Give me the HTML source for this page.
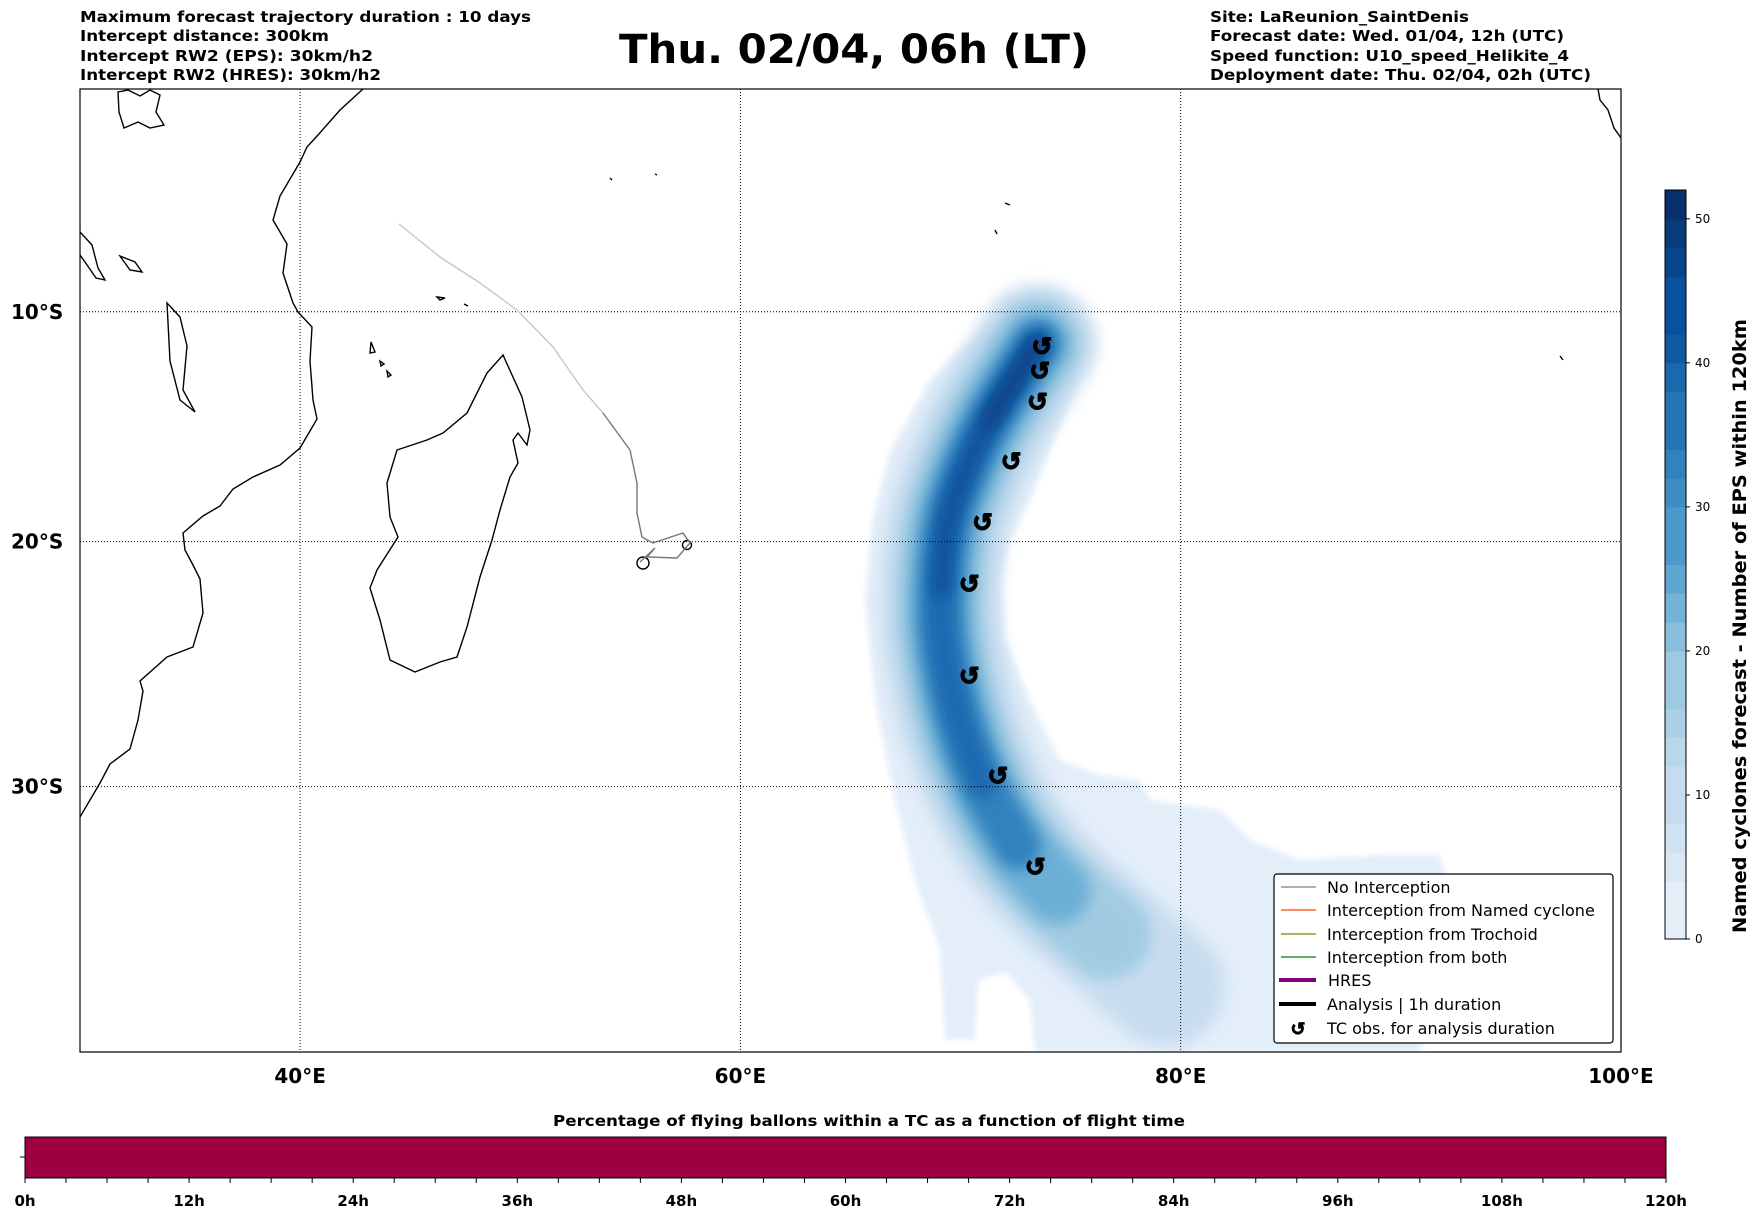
<!DOCTYPE html>
<html><head><meta charset="utf-8"><style>
html,body{margin:0;padding:0;background:#fff;}
svg{display:block;font-family:"DejaVu Sans","Liberation Sans",sans-serif;}
</style></head><body>
<svg id="c" width="1752" height="1213" viewBox="0 0 1752 1213" xmlns="http://www.w3.org/2000/svg">
<defs>
<filter id="bl" filterUnits="userSpaceOnUse" x="0" y="0" width="1752" height="1213"><feGaussianBlur stdDeviation="7"/></filter>
<filter id="bl2" filterUnits="userSpaceOnUse" x="0" y="0" width="1752" height="1213"><feGaussianBlur stdDeviation="3"/></filter>
<clipPath id="mapclip"><rect x="80" y="89" width="1541" height="963"/></clipPath>
</defs>

<!-- header -->
<g font-weight="bold" font-size="15" xml:space="preserve">
<text x="80" y="22" textLength="451" lengthAdjust="spacingAndGlyphs">Maximum forecast trajectory duration : 10 days</text>
<text x="80" y="41" textLength="249" lengthAdjust="spacingAndGlyphs">Intercept distance: 300km</text>
<text x="80" y="61" textLength="293" lengthAdjust="spacingAndGlyphs">Intercept RW2 (EPS):  30km/h2</text>
<text x="80" y="80" textLength="301" lengthAdjust="spacingAndGlyphs">Intercept RW2 (HRES): 30km/h2</text>
</g>
<text x="619" y="63" font-size="40" font-weight="bold" textLength="470" lengthAdjust="spacingAndGlyphs">Thu. 02/04, 06h (LT)</text>
<g font-weight="bold" font-size="15">
<text x="1210" y="22" textLength="259" lengthAdjust="spacingAndGlyphs">Site: LaReunion_SaintDenis</text>
<text x="1210" y="41" textLength="354" lengthAdjust="spacingAndGlyphs">Forecast date: Wed. 01/04, 12h (UTC)</text>
<text x="1210" y="61" textLength="359" lengthAdjust="spacingAndGlyphs">Speed function: U10_speed_Helikite_4</text>
<text x="1210" y="80" textLength="381" lengthAdjust="spacingAndGlyphs">Deployment date: Thu. 02/04, 02h (UTC)</text>
</g>

<g id="map" clip-path="url(#mapclip)">
<g id="density"></g>
<g id="grid"></g>
<g fill="none" stroke="#000" stroke-width="1.4">
<path d="M363,89 L340,110 L318,135 L307,147 L300,162 L280,196 L273,220 L287,244 L283,273 L293,303 L298,312 L312,327 L310,361 L313,400 L317,419 L300,448 L280,465 L253,477 L233,489 L220,506 L203,516 L183,533 L185,550 L193,565 L200,579 L203,613 L193,647 L167,657 L140,681 L143,691 L138,720 L130,749 L110,764 L100,783 L80,817"/>
<path d="M167,303 L180,317 L187,346 L183,390 L195,412 L180,400 L170,361 Z"/>
<path d="M80,232 L92,245 L98,268 L105,280 L96,278 L85,262 L80,255"/>
<path d="M118,92 L128,90 L140,96 L150,90 L160,95 L156,112 L164,125 L150,128 L138,122 L124,128 L119,112 Z"/>
<path d="M120,256 L135,262 L142,272 L130,270 Z"/>
<path d="M503,355 L522,397 L530,430 L527,445 L518,433 L513,440 L518,463 L510,477 L500,510 L492,540 L480,577 L467,627 L457,657 L440,662 L415,672 L390,660 L380,620 L370,588 L377,570 L398,537 L390,517 L387,483 L397,450 L427,440 L443,433 L467,413 L487,373 Z"/>
<path d="M371,342 L375,352 L370,353 Z M380,361 L384,364 L381,366 Z M387,371 L391,375 L388,377 Z"/>
<circle cx="643" cy="563" r="6"/>
<circle cx="687" cy="545" r="4.5"/>
<path d="M437,297 L445,298 L440,300 Z M464,304 L468,306 Z M610,178 L612,180 M655,174 L657,175 M1005,203 L1010,205 M995,230 L997,234 M1560,356 L1563,360 M1598,89 L1600,100 L1608,110 L1614,128 L1621,138"/>
</g>
<g fill="none" stroke-width="1.4">
<path d="M399,224 L440,257 L480,283 L517,310 L553,347 L583,390 L603,413" stroke="#c8c8c8"/>
<path d="M603,413 L630,450 L637,483 L637,513 L642,537 L653,543 L683,533 L690,543 L677,558 L647,557 L655,548 L640,562" stroke="#777"/>
</g>
<g id="tc"></g>
</g>
<rect x="80" y="89" width="1541" height="963" fill="none" stroke="#000" stroke-width="1.2"/>
<g id="axlabels" font-weight="bold" font-size="20"></g>

<!-- legend -->
<g font-size="16">
<rect x="1274" y="874" width="339" height="169" rx="3" fill="#fff" stroke="#000" stroke-width="1.2"/>
<g><line x1="1281" y1="887" x2="1316" y2="887" stroke="#808080" stroke-width="1.2"/><text x="1327" y="893">No Interception</text></g>
<g><line x1="1281" y1="910" x2="1316" y2="910" stroke="#ff4500" stroke-width="1.2"/><text x="1327" y="916">Interception from Named cyclone</text></g>
<g><line x1="1281" y1="934" x2="1316" y2="934" stroke="#808000" stroke-width="1.2"/><text x="1327" y="940">Interception from Trochoid</text></g>
<g><line x1="1281" y1="957" x2="1316" y2="957" stroke="#008000" stroke-width="1.2"/><text x="1327" y="963">Interception from both</text></g>
<g><line x1="1279" y1="980" x2="1316" y2="980" stroke="#800080" stroke-width="4"/><text x="1328" y="986">HRES</text></g>
<g><line x1="1279" y1="1004" x2="1316" y2="1004" stroke="#000" stroke-width="4"/><text x="1327" y="1010">Analysis | 1h duration</text></g>
<g><text x="1298" y="1035" font-size="18" font-weight="bold" text-anchor="middle" stroke="#000" stroke-width="0.8">↺</text><text x="1327" y="1034">TC obs. for analysis duration</text></g>
</g>

<!-- colorbar -->
<g id="cbar"></g>
<text transform="translate(1746,626) rotate(-90)" text-anchor="middle" font-size="19" font-weight="bold" textLength="614" lengthAdjust="spacingAndGlyphs">Named cyclones forecast - Number of EPS within 120km</text>

<!-- time bar -->
<text x="553" y="1126" font-size="15" font-weight="bold" textLength="632" lengthAdjust="spacingAndGlyphs">Percentage of flying ballons within a TC as a function of flight time</text>
<g id="tbar"></g>
</svg>
<script>
// ---- data ----
const lonTicks=[40,60,80,100];
const lonTickLabels=["40°E","60°E","80°E","100°E"];
const latTicks=[-10,-20,-30];
const latTickLabels=["10°S","20°S","30°S"];
const tcLon=[73.7,73.6,73.5,72.3,71.0,70.4,70.4,71.7,73.4];
const tcLat=[-11.55,-12.65,-14.0,-16.6,-19.2,-21.8,-25.6,-29.6,-33.1];
const trackLon=[73.5,72.5,71.3,70.2,69.4,69.1,69.2,69.9,71.0,72.6,74.4,76.6,79.3];
const trackLat=[-11.4,-12.9,-14.8,-17.0,-19.3,-22.0,-24.3,-27.3,-29.9,-32.3,-34.0,-35.6,-37.5];
const cbTicks=[0,10,20,30,40,50];
const cbMax=52;
const cbColors=["#e3eef9","#dae8f6","#d0e1f2","#c6dbef","#bad6eb","#abd0e6","#9ecae1","#89bedc","#74b3d8","#5fa6d1","#4d99ca","#3e8ec4","#3182bd","#2574b6","#1a68ae","#0f5aa3","#08519c","#08458a","#083b7a","#08306b"];
const timeTicks=[0,12,24,36,48,60,72,84,96,108,120];
const timeTickLabels=["0h","12h","24h","36h","48h","60h","72h","84h","96h","108h","120h"];
const timeMax=120;

// ---- projection ----
const X0=80,PXD=22.014,Y0=89,K=1270;
function px(lon){return X0+(lon-30)*PXD;}
function merc(lat){const r=Math.abs(lat)*Math.PI/180;return Math.log(Math.tan(Math.PI/4+r/2));}
function py(lat){return Y0+merc(lat)*K;}
const NS="http://www.w3.org/2000/svg";
function mk(t,a,p){const e=document.createElementNS(NS,t);for(const k in a)e.setAttribute(k,a[k]);p.appendChild(e);return e;}

// grid
const grid=document.getElementById('grid');
lonTicks.forEach(l=>{if(l<100){const g=mk('line',{x1:px(l),x2:px(l),y1:89,y2:1052,stroke:'#000','stroke-width':1,'stroke-dasharray':'1,2'},grid);

}});
latTicks.forEach(l=>{const g=mk('line',{x1:80,x2:1621,y1:py(l),y2:py(l),stroke:'#000','stroke-width':1,'stroke-dasharray':'1,2'},grid);

});

// axis labels
const axl=document.getElementById('axlabels');
lonTicks.forEach((l,i)=>{const t=mk('text',{x:px(l),y:1083,'text-anchor':'middle'},axl);t.textContent=lonTickLabels[i];

});
latTicks.forEach((l,i)=>{const t=mk('text',{x:11,y:py(l)+7},axl);t.textContent=latTickLabels[i];

});

// density plume
const dens=document.getElementById('density');
function spline(xs,ys){let d='M'+xs[0]+','+ys[0];for(let i=0;i<xs.length-1;i++){const p0=[xs[Math.max(i-1,0)],ys[Math.max(i-1,0)]],p1=[xs[i],ys[i]],p2=[xs[i+1],ys[i+1]],p3=[xs[Math.min(i+2,xs.length-1)],ys[Math.min(i+2,ys.length-1)]];
d+=' C'+(p1[0]+(p2[0]-p0[0])/6)+','+(p1[1]+(p2[1]-p0[1])/6)+' '+(p2[0]-(p3[0]-p1[0])/6)+','+(p2[1]-(p3[1]-p1[1])/6)+' '+p2[0]+','+p2[1];}return d;}
const txs=trackLon.map(px),tys=trackLat.map(py);
mk('path',{d:'M1030,296 L1050,296 L1070,310 L1078,350 L1070,400 L1050,450 L1030,500 L1010,540 L1000,580 L1005,640 L1030,700 L1060,760 L1100,775 L1140,780 L1150,800 L1220,810 L1250,840 L1300,860 L1380,855 L1440,855 L1452,900 L1440,1000 L1420,1052 L1035,1052 L1030,1000 L1005,972 L978,980 L975,1040 L945,1040 L940,950 L915,880 L895,800 L875,700 L865,600 L872,520 L890,450 L930,380 L960,350 L990,330 L1010,305 Z',fill:'#e3eef9',filter:'url(#bl2)'},dens);
function layer(n,w,col,op){const d=spline(txs.slice(0,n),tys.slice(0,n));const p=mk('path',{d:d,fill:'none',stroke:col,'stroke-width':w,'stroke-linecap':'round','stroke-linejoin':'round',opacity:op,filter:'url(#bl)'},dens);

}
layer(13,120,'#c6dbef',0.9);
layer(12,90,'#9ecae1',0.9);
layer(11,66,'#6baed6',0.95);
layer(10,46,'#3182bd',1);
layer(9,28,'#1c69b0',1);
layer(6,18,'#08519c',1);
layer(3,16,'#08458a',1);

// TC obs
const tc=document.getElementById('tc');
tcLon.forEach((l,i)=>{const t=mk('text',{x:px(l),y:py(tcLat[i])+8,'text-anchor':'middle','font-size':25,'font-weight':'bold',fill:'#000',stroke:'#000','stroke-width':1.2},tc);t.textContent='↺';

});

// colorbar
const cb=document.getElementById('cbar');
const CB_B=939,CB_T=190,CBX=1665,CBW=21;
function cy(v){return CB_B-(v/cbMax)*(CB_B-CB_T);}
for(let i=0;i<26;i++){const v0=i*2,v1=i*2+2;const r=mk('rect',{x:CBX,y:cy(v1),width:CBW,height:cy(v0)-cy(v1)+0.5,fill:cbColors[Math.min(19,Math.floor(i*20/26))]},cb);

}
mk('rect',{x:CBX,y:CB_T,width:CBW,height:CB_B-CB_T,fill:'none',stroke:'#000','stroke-width':1},cb);
cbTicks.forEach(v=>{mk('line',{x1:CBX+CBW,x2:CBX+CBW+4,y1:cy(v),y2:cy(v),stroke:'#000'},cb);const t=mk('text',{x:CBX+CBW+9,y:cy(v)+4,'font-size':12},cb);t.textContent=v;

});

// time bar
const tb=document.getElementById('tbar');
const TX0=25,TX1=1666;
function tx(h){return TX0+(h/timeMax)*(TX1-TX0);}
const bar=mk('rect',{x:TX0,y:1137,width:TX1-TX0,height:41,fill:'#9e0142',stroke:'#000','stroke-width':1},tb);


mk('line',{x1:20,x2:TX0,y1:1157,y2:1157,stroke:'#000'},tb);
for(let h=0;h<=timeMax;h+=3){mk('line',{x1:tx(h),x2:tx(h),y1:1178,y2:1183,stroke:'#000'},tb);}
timeTicks.forEach((h,i)=>{const t=mk('text',{x:tx(h),y:1206,'text-anchor':'middle','font-size':15,'font-weight':'bold'},tb);t.textContent=timeTickLabels[i];

});
</script>
</body></html>
